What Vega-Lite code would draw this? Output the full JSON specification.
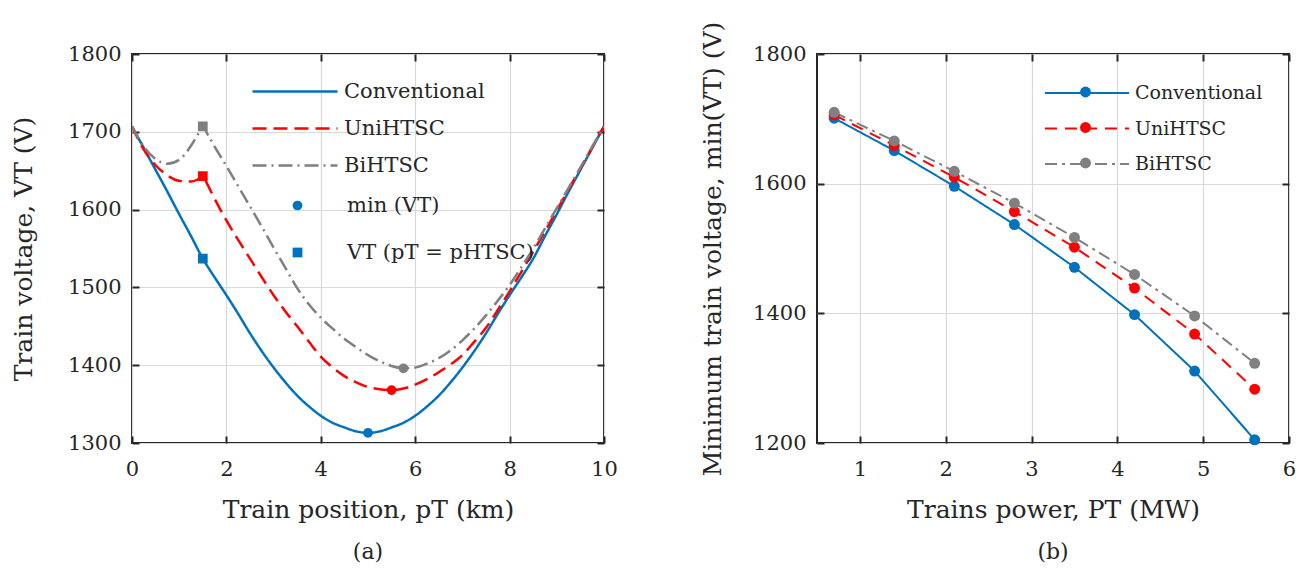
{
  "$schema": "https://vega.github.io/schema/vega-lite/v6.json",
  "background": "white",
  "padding": {"left": 10, "top": 20, "right": 0, "bottom": 5},
  "spacing": 213,
  "bounds": "flush",
  "config": {
    "font": "DejaVu Serif",
    "view": {"stroke": "#262626", "strokeWidth": 2},
    "axis": {"domain": false, "grid": true, "gridColor": "#d9d9d9", "gridWidth": 1.2, "tickColor": "#262626", "tickSize": -7, "tickWidth": 2, "format": "d", "labelFont": "DejaVu Serif", "labelFontSize": 21, "labelColor": "#262626", "labelFlush": false, "labelOverlap": false, "titleFont": "DejaVu Serif", "titleFontSize": 25, "titleFontWeight": "normal", "titleColor": "#262626"},
    "axisX": {"labelPadding": 22, "titlePadding": 18},
    "axisY": {"labelPadding": 18},
    "legend": {"labelFont": "DejaVu Serif", "labelColor": "#262626", "title": null, "labelLimit": 400}
  },
  "datasets": {
    "curves": [
      {"km": 0, "V": 1707, "series": "Conventional"},
      {"km": 0.25, "V": 1679, "series": "Conventional"},
      {"km": 0.5, "V": 1651, "series": "Conventional"},
      {"km": 0.75, "V": 1623, "series": "Conventional"},
      {"km": 1, "V": 1594, "series": "Conventional"},
      {"km": 1.25, "V": 1566, "series": "Conventional"},
      {"km": 1.5, "V": 1537, "series": "Conventional"},
      {"km": 1.75, "V": 1513, "series": "Conventional"},
      {"km": 2, "V": 1490, "series": "Conventional"},
      {"km": 2.25, "V": 1466, "series": "Conventional"},
      {"km": 2.5, "V": 1441, "series": "Conventional"},
      {"km": 2.75, "V": 1418, "series": "Conventional"},
      {"km": 3, "V": 1397, "series": "Conventional"},
      {"km": 3.25, "V": 1378, "series": "Conventional"},
      {"km": 3.5, "V": 1361, "series": "Conventional"},
      {"km": 3.75, "V": 1347, "series": "Conventional"},
      {"km": 4, "V": 1335, "series": "Conventional"},
      {"km": 4.25, "V": 1326, "series": "Conventional"},
      {"km": 4.5, "V": 1320, "series": "Conventional"},
      {"km": 4.75, "V": 1315, "series": "Conventional"},
      {"km": 5, "V": 1313, "series": "Conventional"},
      {"km": 5.25, "V": 1315, "series": "Conventional"},
      {"km": 5.5, "V": 1320, "series": "Conventional"},
      {"km": 5.75, "V": 1326, "series": "Conventional"},
      {"km": 6, "V": 1335, "series": "Conventional"},
      {"km": 6.25, "V": 1347, "series": "Conventional"},
      {"km": 6.5, "V": 1361, "series": "Conventional"},
      {"km": 6.75, "V": 1378, "series": "Conventional"},
      {"km": 7, "V": 1397, "series": "Conventional"},
      {"km": 7.25, "V": 1418, "series": "Conventional"},
      {"km": 7.5, "V": 1441, "series": "Conventional"},
      {"km": 7.75, "V": 1466, "series": "Conventional"},
      {"km": 8, "V": 1490, "series": "Conventional"},
      {"km": 8.25, "V": 1513, "series": "Conventional"},
      {"km": 8.5, "V": 1537, "series": "Conventional"},
      {"km": 8.75, "V": 1566, "series": "Conventional"},
      {"km": 9, "V": 1594, "series": "Conventional"},
      {"km": 9.25, "V": 1623, "series": "Conventional"},
      {"km": 9.5, "V": 1651, "series": "Conventional"},
      {"km": 9.75, "V": 1679, "series": "Conventional"},
      {"km": 10, "V": 1707, "series": "Conventional"},
      {"km": 0, "V": 1707, "series": "UniHTSC"},
      {"km": 0.25, "V": 1677, "series": "UniHTSC"},
      {"km": 0.5, "V": 1657, "series": "UniHTSC"},
      {"km": 0.75, "V": 1644, "series": "UniHTSC"},
      {"km": 1, "V": 1637, "series": "UniHTSC"},
      {"km": 1.25, "V": 1636, "series": "UniHTSC"},
      {"km": 1.4, "V": 1639, "series": "UniHTSC"},
      {"km": 1.5, "V": 1643, "series": "UniHTSC"},
      {"km": 1.6, "V": 1632, "series": "UniHTSC"},
      {"km": 1.75, "V": 1614, "series": "UniHTSC"},
      {"km": 2, "V": 1586, "series": "UniHTSC"},
      {"km": 2.25, "V": 1561, "series": "UniHTSC"},
      {"km": 2.5, "V": 1537, "series": "UniHTSC"},
      {"km": 2.75, "V": 1513, "series": "UniHTSC"},
      {"km": 3, "V": 1490, "series": "UniHTSC"},
      {"km": 3.25, "V": 1469, "series": "UniHTSC"},
      {"km": 3.5, "V": 1450, "series": "UniHTSC"},
      {"km": 3.75, "V": 1430, "series": "UniHTSC"},
      {"km": 4, "V": 1411, "series": "UniHTSC"},
      {"km": 4.25, "V": 1397, "series": "UniHTSC"},
      {"km": 4.5, "V": 1386, "series": "UniHTSC"},
      {"km": 4.75, "V": 1378, "series": "UniHTSC"},
      {"km": 5, "V": 1372, "series": "UniHTSC"},
      {"km": 5.25, "V": 1369, "series": "UniHTSC"},
      {"km": 5.5, "V": 1368, "series": "UniHTSC"},
      {"km": 5.75, "V": 1370, "series": "UniHTSC"},
      {"km": 6, "V": 1375, "series": "UniHTSC"},
      {"km": 6.25, "V": 1382, "series": "UniHTSC"},
      {"km": 6.5, "V": 1391, "series": "UniHTSC"},
      {"km": 6.75, "V": 1401, "series": "UniHTSC"},
      {"km": 7, "V": 1413, "series": "UniHTSC"},
      {"km": 7.25, "V": 1430, "series": "UniHTSC"},
      {"km": 7.5, "V": 1448, "series": "UniHTSC"},
      {"km": 7.75, "V": 1471, "series": "UniHTSC"},
      {"km": 8, "V": 1495, "series": "UniHTSC"},
      {"km": 8.25, "V": 1520, "series": "UniHTSC"},
      {"km": 8.5, "V": 1546, "series": "UniHTSC"},
      {"km": 8.75, "V": 1572, "series": "UniHTSC"},
      {"km": 9, "V": 1599, "series": "UniHTSC"},
      {"km": 9.25, "V": 1626, "series": "UniHTSC"},
      {"km": 9.5, "V": 1653, "series": "UniHTSC"},
      {"km": 9.75, "V": 1680, "series": "UniHTSC"},
      {"km": 10, "V": 1707, "series": "UniHTSC"},
      {"km": 0, "V": 1707, "series": "BiHTSC"},
      {"km": 0.25, "V": 1681, "series": "BiHTSC"},
      {"km": 0.5, "V": 1665, "series": "BiHTSC"},
      {"km": 0.75, "V": 1659, "series": "BiHTSC"},
      {"km": 1, "V": 1664, "series": "BiHTSC"},
      {"km": 1.25, "V": 1682, "series": "BiHTSC"},
      {"km": 1.4, "V": 1697, "series": "BiHTSC"},
      {"km": 1.5, "V": 1707, "series": "BiHTSC"},
      {"km": 1.6, "V": 1697, "series": "BiHTSC"},
      {"km": 1.75, "V": 1681, "series": "BiHTSC"},
      {"km": 2, "V": 1656, "series": "BiHTSC"},
      {"km": 2.25, "V": 1630, "series": "BiHTSC"},
      {"km": 2.5, "V": 1604, "series": "BiHTSC"},
      {"km": 2.75, "V": 1578, "series": "BiHTSC"},
      {"km": 3, "V": 1551, "series": "BiHTSC"},
      {"km": 3.25, "V": 1525, "series": "BiHTSC"},
      {"km": 3.5, "V": 1499, "series": "BiHTSC"},
      {"km": 3.75, "V": 1478, "series": "BiHTSC"},
      {"km": 4, "V": 1461, "series": "BiHTSC"},
      {"km": 4.25, "V": 1447, "series": "BiHTSC"},
      {"km": 4.5, "V": 1434, "series": "BiHTSC"},
      {"km": 4.75, "V": 1423, "series": "BiHTSC"},
      {"km": 5, "V": 1413, "series": "BiHTSC"},
      {"km": 5.25, "V": 1405, "series": "BiHTSC"},
      {"km": 5.5, "V": 1399, "series": "BiHTSC"},
      {"km": 5.75, "V": 1396, "series": "BiHTSC"},
      {"km": 6, "V": 1397, "series": "BiHTSC"},
      {"km": 6.25, "V": 1402, "series": "BiHTSC"},
      {"km": 6.5, "V": 1409, "series": "BiHTSC"},
      {"km": 6.75, "V": 1419, "series": "BiHTSC"},
      {"km": 7, "V": 1432, "series": "BiHTSC"},
      {"km": 7.25, "V": 1447, "series": "BiHTSC"},
      {"km": 7.5, "V": 1464, "series": "BiHTSC"},
      {"km": 7.75, "V": 1483, "series": "BiHTSC"},
      {"km": 8, "V": 1503, "series": "BiHTSC"},
      {"km": 8.25, "V": 1526, "series": "BiHTSC"},
      {"km": 8.5, "V": 1550, "series": "BiHTSC"},
      {"km": 8.75, "V": 1576, "series": "BiHTSC"},
      {"km": 9, "V": 1602, "series": "BiHTSC"},
      {"km": 9.25, "V": 1628, "series": "BiHTSC"},
      {"km": 9.5, "V": 1654, "series": "BiHTSC"},
      {"km": 9.75, "V": 1681, "series": "BiHTSC"},
      {"km": 10, "V": 1707, "series": "BiHTSC"}
    ],
    "markers": [
      {"km": 5, "V": 1313, "series": "Conventional", "marker": "min (VT)"},
      {"km": 5.5, "V": 1368, "series": "UniHTSC", "marker": "min (VT)"},
      {"km": 5.75, "V": 1396, "series": "BiHTSC", "marker": "min (VT)"},
      {"km": 1.5, "V": 1537, "series": "Conventional", "marker": "VT (pT = pHTSC)"},
      {"km": 1.5, "V": 1643, "series": "UniHTSC", "marker": "VT (pT = pHTSC)"},
      {"km": 1.5, "V": 1707, "series": "BiHTSC", "marker": "VT (pT = pHTSC)"}
    ],
    "power": [
      {"P": 0.7, "V": 1701, "series": "Conventional"},
      {"P": 1.4, "V": 1651, "series": "Conventional"},
      {"P": 2.1, "V": 1596, "series": "Conventional"},
      {"P": 2.8, "V": 1537, "series": "Conventional"},
      {"P": 3.5, "V": 1471, "series": "Conventional"},
      {"P": 4.2, "V": 1398, "series": "Conventional"},
      {"P": 4.9, "V": 1311, "series": "Conventional"},
      {"P": 5.6, "V": 1205, "series": "Conventional"},
      {"P": 0.7, "V": 1706, "series": "UniHTSC"},
      {"P": 1.4, "V": 1659, "series": "UniHTSC"},
      {"P": 2.1, "V": 1610, "series": "UniHTSC"},
      {"P": 2.8, "V": 1557, "series": "UniHTSC"},
      {"P": 3.5, "V": 1502, "series": "UniHTSC"},
      {"P": 4.2, "V": 1439, "series": "UniHTSC"},
      {"P": 4.9, "V": 1368, "series": "UniHTSC"},
      {"P": 5.6, "V": 1283, "series": "UniHTSC"},
      {"P": 0.7, "V": 1710, "series": "BiHTSC"},
      {"P": 1.4, "V": 1666, "series": "BiHTSC"},
      {"P": 2.1, "V": 1619, "series": "BiHTSC"},
      {"P": 2.8, "V": 1570, "series": "BiHTSC"},
      {"P": 3.5, "V": 1517, "series": "BiHTSC"},
      {"P": 4.2, "V": 1460, "series": "BiHTSC"},
      {"P": 4.9, "V": 1396, "series": "BiHTSC"},
      {"P": 5.6, "V": 1323, "series": "BiHTSC"}
    ]
  },
  "resolve": {
    "scale": {"stroke": "independent", "strokeDash": "independent", "fill": "independent", "shape": "independent", "x": "independent", "y": "independent"},
    "legend": {"stroke": "independent", "strokeDash": "independent", "fill": "independent", "shape": "independent"}
  },
  "hconcat": [
    {
      "width": 472,
      "height": 389,
      "title": {"text": "(a)", "orient": "bottom", "anchor": "middle", "font": "DejaVu Serif", "fontSize": 22, "fontWeight": "normal", "color": "#262626", "offset": 20},
      "resolve": {"axis": {"x": "independent", "y": "independent"}},
      "layer": [
        {
          "data": {"name": "curves"},
          "mark": {"type": "line", "strokeWidth": 2.5, "clip": true, "interpolate": "monotone"},
          "encoding": {
            "x": {"field": "km", "type": "quantitative", "scale": {"domain": [0, 10], "nice": false}, "axis": {"values": [0, 2, 4, 6, 8, 10], "title": "Train position, pT (km)"}},
            "y": {"field": "V", "type": "quantitative", "scale": {"domain": [1300, 1800], "nice": false, "zero": false}, "axis": {"values": [1300, 1400, 1500, 1600, 1700, 1800], "title": "Train voltage, VT (V)", "titlePadding": 31}},
            "stroke": {"field": "series", "type": "nominal", "sort": null, "scale": {"domain": ["Conventional", "UniHTSC", "BiHTSC"], "range": ["#0072BD", "#FF0000", "#808080"]}, "legend": {"orient": "none", "legendX": 184, "legendY": 26, "symbolType": "M-7.5,0H1", "symbolSize": 400, "symbolStrokeWidth": 2.5, "labelFontSize": 21, "labelOffset": 5, "rowPadding": 15, "title": null}},
            "strokeDash": {"field": "series", "type": "nominal", "sort": null, "scale": {"domain": ["Conventional", "UniHTSC", "BiHTSC"], "range": [[1, 0], [14, 7], [14, 5, 2, 5]]}, "legend": {"orient": "none", "legendX": 184, "legendY": 26, "symbolType": "M-7.5,0H1", "symbolSize": 400, "symbolStrokeWidth": 2.5, "labelFontSize": 21, "labelOffset": 5, "rowPadding": 15, "title": null}}
          }
        },
        {
          "data": {"name": "markers"},
          "mark": {"type": "point", "filled": true, "size": 95, "opacity": 1, "color": "#0072BD", "strokeWidth": 0},
          "encoding": {
            "x": {"field": "km", "type": "quantitative", "axis": {"orient": "top", "values": [0, 2, 4, 6, 8, 10], "labels": false, "grid": false, "title": null}},
            "y": {"field": "V", "type": "quantitative", "axis": {"orient": "right", "values": [1300, 1400, 1500, 1600, 1700, 1800], "labels": false, "grid": false, "title": null}},
            "fill": {"field": "series", "type": "nominal", "scale": {"domain": ["Conventional", "UniHTSC", "BiHTSC"], "range": ["#0072BD", "#FF0000", "#808080"]}, "legend": null},
            "shape": {"field": "marker", "type": "nominal", "sort": null, "scale": {"domain": ["min (VT)", "VT (pT = pHTSC)"], "range": ["circle", "square"]}, "legend": {"orient": "none", "legendX": 155, "legendY": 141, "symbolSize": 95, "symbolFillColor": "#0072BD", "symbolStrokeWidth": 0, "labelFontSize": 21, "labelOffset": 39, "rowPadding": 25, "title": null}}
          }
        }
      ]
    },
    {
      "width": 472,
      "height": 389,
      "title": {"text": "(b)", "orient": "bottom", "anchor": "middle", "font": "DejaVu Serif", "fontSize": 22, "fontWeight": "normal", "color": "#262626", "offset": 20},
      "data": {"name": "power"},
      "resolve": {"axis": {"x": "independent", "y": "independent"}},
      "layer": [
        {
          "mark": {"type": "line", "strokeWidth": 2, "clip": true},
          "encoding": {
            "x": {"field": "P", "type": "quantitative", "scale": {"domain": [0.5, 6], "nice": false, "zero": false}, "axis": {"values": [1, 2, 3, 4, 5, 6], "title": "Trains power, PT (MW)"}},
            "y": {"field": "V", "type": "quantitative", "scale": {"domain": [1200, 1800], "nice": false, "zero": false}, "axis": {"values": [1200, 1400, 1600, 1800], "title": "Minimum train voltage, min(VT) (V)", "titlePadding": 27}},
            "stroke": {"field": "series", "type": "nominal", "sort": null, "scale": {"domain": ["Conventional", "UniHTSC", "BiHTSC"], "range": ["#0072BD", "#FF0000", "#808080"]}, "legend": {"orient": "none", "legendX": 291, "legendY": 28, "symbolType": "M-7.4,0H1", "symbolSize": 400, "symbolStrokeWidth": 2, "labelFontSize": 19, "labelOffset": 5, "rowPadding": 14.5, "title": null}},
            "strokeDash": {"field": "series", "type": "nominal", "sort": null, "scale": {"domain": ["Conventional", "UniHTSC", "BiHTSC"], "range": [[1, 0], [12, 8], [12, 5, 3, 5]]}, "legend": {"orient": "none", "legendX": 291, "legendY": 28, "symbolType": "M-7.4,0H1", "symbolSize": 400, "symbolStrokeWidth": 2, "labelFontSize": 19, "labelOffset": 5, "rowPadding": 14.5, "title": null}}
          }
        },
        {
          "mark": {"type": "circle", "size": 120, "opacity": 1},
          "encoding": {
            "x": {"field": "P", "type": "quantitative", "axis": {"orient": "top", "values": [1, 2, 3, 4, 5, 6], "labels": false, "grid": false, "title": null}},
            "y": {"field": "V", "type": "quantitative", "axis": {"orient": "right", "values": [1200, 1400, 1600, 1800], "labels": false, "grid": false, "title": null}},
            "fill": {"field": "series", "type": "nominal", "sort": null, "scale": {"domain": ["BiHTSC", "Conventional", "UniHTSC"], "range": ["#808080", "#0072BD", "#FF0000"]}, "legend": {"values": ["Conventional", "UniHTSC", "BiHTSC"], "orient": "none", "legendX": 259, "legendY": 28.5, "symbolType": "circle", "symbolSize": 120, "symbolOpacity": 1, "symbolStrokeWidth": 0, "labelFontSize": 19, "labelOffset": 5, "labelExpr": "''", "rowPadding": 15.5, "title": null}}
          }
        }
      ]
    }
  ]
}
